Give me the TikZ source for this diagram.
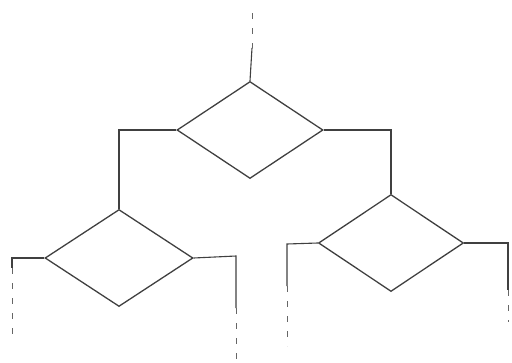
\documentclass[tikz,border=0pt]{standalone}
\usetikzlibrary{shapes.geometric}
\begin{document}
\begin{tikzpicture}[x=1pt,y=-1pt,
  ln/.style={draw=black!75,line width=1.1pt},
  dia/.style={shape=diamond,ln,inner sep=0pt,line width=1.3pt},
  dsh/.style={draw=black!60,line width=1pt,dash pattern=on 6pt off 9pt}]
\useasboundingbox (0,0) rectangle (512,362);
\node[dia,minimum width=146pt,minimum height=97pt] (T) at (250,130) {};
\node[dia,minimum width=148pt,minimum height=97pt] (L) at (119,258) {};
\node[dia,minimum width=145pt,minimum height=97pt] (R) at (391,243) {};
% coordinates for free ends
\coordinate (t0) at (252,13);
\coordinate (t1) at (252,48);
\coordinate (l0) at (12,258);
\coordinate (l1) at (12,268);
\coordinate (l2) at (12,342);
\coordinate (m0) at (236,256);
\coordinate (m1) at (236,308);
\coordinate (m2) at (236,360);
\coordinate (r0) at (287,244);
\coordinate (r1) at (287,286);
\coordinate (r2) at (287,346);
\coordinate (s0) at (508,243);
\coordinate (s1) at (508,290);
\coordinate (s2) at (508,322);
% connectors
\draw[dsh] (t0) -- (t1);
\draw[ln] (t1) -- (T.north);
\draw[ln] (T.west) -| (L.north);
\draw[ln] (T.east) -| (R.north);
\draw[ln] (L.west) -- (l0) -- (l1);
\draw[dsh] (l1) -- (l2);
\draw[ln] (L.east) -- (m0) -- (m1);
\draw[dsh] (m1) -- (m2);
\draw[ln] (R.west) -- (r0) -- (r1);
\draw[dsh] (r1) -- (r2);
\draw[ln] (R.east) -- (s0) -- (s1);
\draw[dsh] (s1) -- (s2);
\end{tikzpicture}
\end{document}
